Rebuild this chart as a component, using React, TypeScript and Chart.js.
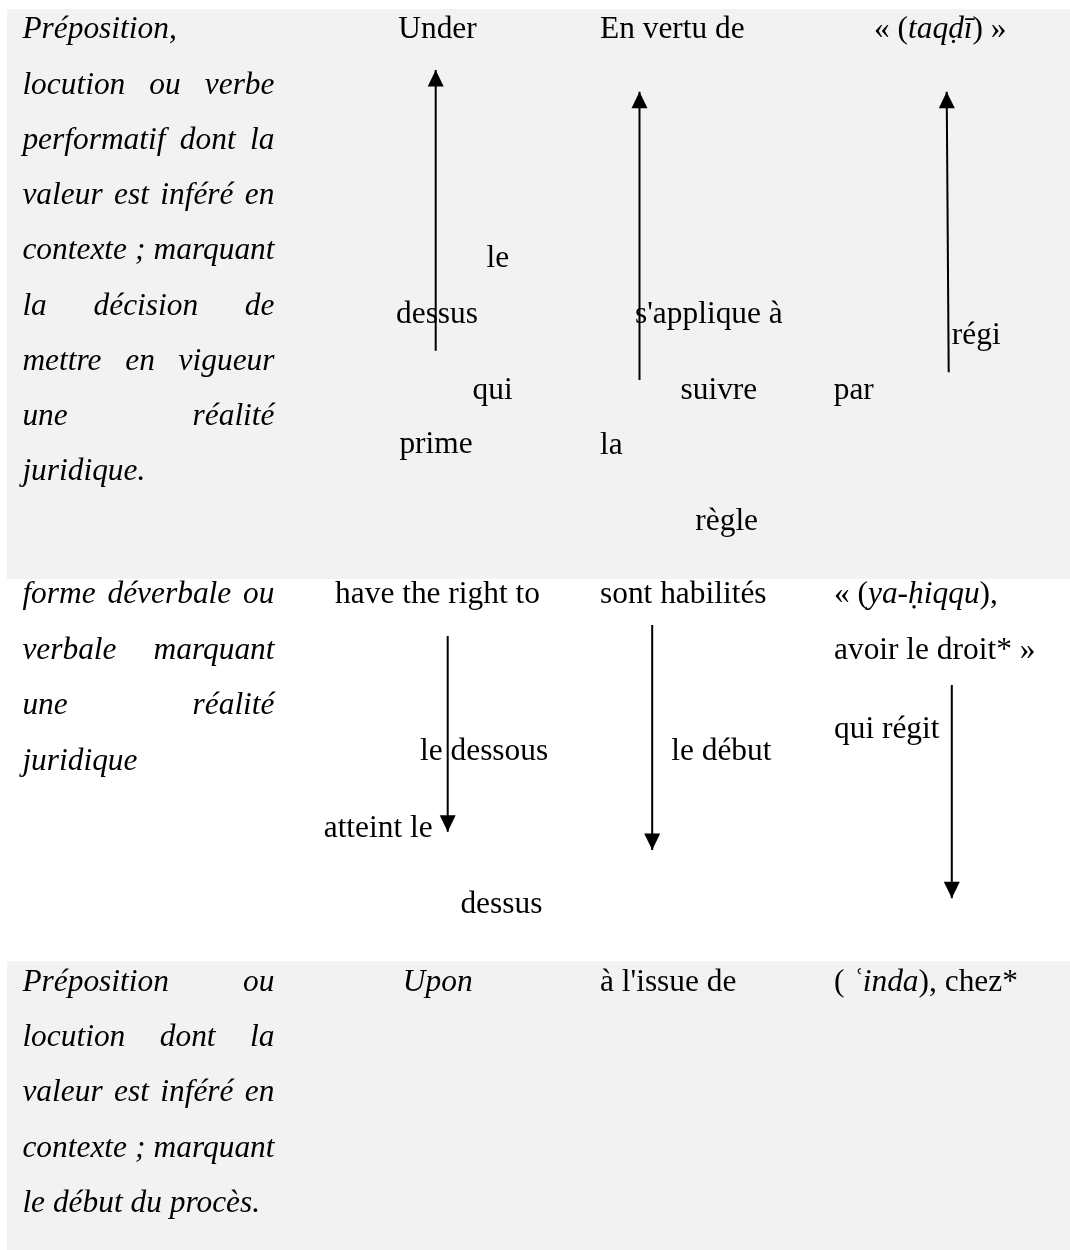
import React, { useEffect, useRef } from "react";
import { Chart, registerables } from "chart.js";

Chart.register(...registerables);

// ---- page / axis extent (data space = page units) ----
const X_MAX = 1070;
const Y_MAX = 1250;

// ---- shaded table rows (top / bottom of each grey band, left edge) ----
const bandTop = [9, 961];
const bandBottom = [579, 1250];
const bandLeft = [7, 7];

// ---- first column: italic descriptions, one entry per printed line ----
const descRow1 = [
  "Préposition,",
  "locution ou verbe",
  "performatif dont la",
  "valeur est inféré en",
  "contexte ; marquant",
  "la décision de",
  "mettre en vigueur",
  "une réalité",
  "juridique.",
];
const descRow2 = [
  "forme déverbale ou",
  "verbale marquant",
  "une réalité",
  "juridique",
];
const descRow3 = [
  "Préposition ou",
  "locution dont la",
  "valeur est inféré en",
  "contexte ; marquant",
  "le début du procès.",
];
const descParagraphs = [descRow1, descRow2, descRow3];
const descFirstBaseline = [38.3, 603.3, 991];
const descLineStep = [55.25, 55.5, 55.2];
const descColumnEdges = [22.4, 274.5];

// ---- other cells and floating words (_…_ = italic) ----
const wordTexts = [
  "Under",
  "En vertu de",
  "« (_taqḍī_) »",
  "le",
  "dessus",
  "qui",
  "prime",
  "s'applique à",
  "régi",
  "suivre",
  "par",
  "la",
  "règle",
  "have the right to",
  "sont habilités",
  "« (_ya-ḥiqqu_),",
  "avoir le droit* »",
  "qui régit",
  "le dessous",
  "atteint le",
  "dessus",
  "le début",
  "_Upon_",
  "à l'issue de",
  "( _ʿinda_), chez*",
];
const wordX = [
  437.5, 600, 940.3, 486.6, 396, 472.5, 399.4, 635, 951.8, 680.5, 833.7, 600,
  695.3, 437.5, 600, 834, 834, 834, 420, 323.7, 460.4, 671.2, 437.7, 600, 834,
];
const wordY = [
  38.3, 38.3, 38.3, 267, 322.7, 399, 452.7, 322.7, 344, 399, 399, 454.3, 530,
  603.3, 603.3, 603.3, 658.8, 738.3, 760, 836.7, 913.3, 760, 991, 991, 991,
];
const wordAlign = [
  "center", "left", "center", "left", "left", "left", "left", "left", "left",
  "left", "left", "left", "left", "center", "left", "left", "left", "left",
  "left", "left", "left", "left", "center", "left", "left",
];

// ---- arrows: start point -> tip ----
const arrowStartX = [435.7, 639.5, 948.7, 447.7, 652.2, 951.8];
const arrowStartY = [350.7, 380, 372.3, 636, 625, 685];
const arrowTipX = [435.7, 639.5, 946.7, 447.7, 652.2, 951.8];
const arrowTipY = [70, 91.7, 91.7, 831.7, 850, 898.3];

// ---- styles ----
const FONT_FAMILY = '"Liberation Serif", "Times New Roman", serif';
const FONT_SIZE = 31.4;
const BAND_COLOR = "#f2f2f2";
const INK = "#000000";
const HEAD_LEN = 16.5;
const HEAD_HALF = 8;

function fontFor(italic: boolean) {
  return `${italic ? "italic " : ""}${FONT_SIZE}px ${FONT_FAMILY}`;
}

function parseRuns(s: string): { text: string; italic: boolean }[] {
  const parts = s.split("_");
  return parts
    .map((p, i) => ({ text: p, italic: i % 2 === 1 }))
    .filter((r) => r.text.length > 0);
}

const bandsPlugin = {
  id: "bands",
  beforeDatasetsDraw(chart: any) {
    const { ctx, scales } = chart;
    const xs = scales.x;
    const ys = scales.y;
    ctx.save();
    ctx.fillStyle = "#ffffff";
    ctx.fillRect(0, 0, chart.width, chart.height);
    ctx.fillStyle = BAND_COLOR;
    for (let i = 0; i < bandTop.length; i++) {
      const x0 = xs.getPixelForValue(bandLeft[i]);
      const x1 = xs.getPixelForValue(X_MAX);
      const y0 = ys.getPixelForValue(bandTop[i]);
      const y1 = ys.getPixelForValue(bandBottom[i]);
      ctx.fillRect(x0, y0, x1 - x0, y1 - y0);
    }
    ctx.restore();
  },
};

const textPlugin = {
  id: "tableText",
  afterDatasetsDraw(chart: any) {
    const { ctx, scales } = chart;
    const xs = scales.x;
    const ys = scales.y;
    ctx.save();
    ctx.fillStyle = INK;
    ctx.textBaseline = "alphabetic";
    ctx.textAlign = "left";

    // justified italic descriptions
    const left = xs.getPixelForValue(descColumnEdges[0]);
    const right = xs.getPixelForValue(descColumnEdges[1]);
    descParagraphs.forEach((lines, pi) => {
      lines.forEach((line, li) => {
        const y = ys.getPixelForValue(descFirstBaseline[pi] + li * descLineStep[pi]);
        ctx.font = fontFor(true);
        const words = line.split(" ");
        const isLast = li === lines.length - 1;
        if (isLast || words.length < 2) {
          ctx.fillText(line, left, y);
          return;
        }
        const widths = words.map((w) => ctx.measureText(w).width);
        const total = widths.reduce((a, b) => a + b, 0);
        const gap = (right - left - total) / (words.length - 1);
        let x = left;
        words.forEach((w, wi) => {
          ctx.fillText(w, x, y);
          x += widths[wi] + gap;
        });
      });
    });

    // cell words
    wordTexts.forEach((txt, i) => {
      const runs = parseRuns(txt);
      const widths = runs.map((r) => {
        ctx.font = fontFor(r.italic);
        return ctx.measureText(r.text).width;
      });
      const total = widths.reduce((a, b) => a + b, 0);
      let x = xs.getPixelForValue(wordX[i]);
      if (wordAlign[i] === "center") x -= total / 2;
      const y = ys.getPixelForValue(wordY[i]);
      runs.forEach((r, ri) => {
        ctx.font = fontFor(r.italic);
        ctx.fillText(r.text, x, y);
        x += widths[ri];
      });
    });
    ctx.restore();
  },
};

const arrowHeadPlugin = {
  id: "arrowHeads",
  afterDatasetsDraw(chart: any) {
    const { ctx } = chart;
    ctx.save();
    ctx.fillStyle = INK;
    chart.data.datasets.forEach((_: any, di: number) => {
      const meta = chart.getDatasetMeta(di);
      const pts = meta.data;
      if (!pts || pts.length < 2) return;
      const a = pts[pts.length - 2];
      const b = pts[pts.length - 1];
      const ang = Math.atan2(b.y - a.y, b.x - a.x);
      const bx = b.x - Math.cos(ang) * HEAD_LEN;
      const by = b.y - Math.sin(ang) * HEAD_LEN;
      const nx = -Math.sin(ang) * HEAD_HALF;
      const ny = Math.cos(ang) * HEAD_HALF;
      ctx.beginPath();
      ctx.moveTo(b.x, b.y);
      ctx.lineTo(bx + nx, by + ny);
      ctx.lineTo(bx - nx, by - ny);
      ctx.closePath();
      ctx.fill();
    });
    ctx.restore();
  },
};

export default function App() {
  const canvasRef = useRef<HTMLCanvasElement | null>(null);

  useEffect(() => {
    const canvas = canvasRef.current;
    if (!canvas) return;
    const datasets = arrowStartX.map((sx, i) => ({
      label: `arrow ${i + 1}`,
      data: [
        { x: sx, y: arrowStartY[i] },
        { x: arrowTipX[i], y: arrowTipY[i] },
      ],
      showLine: true,
      borderColor: INK,
      backgroundColor: INK,
      borderWidth: 2,
      pointRadius: 0,
      pointHoverRadius: 0,
      fill: false,
      tension: 0,
    }));
    const chart = new Chart(canvas, {
      type: "scatter",
      data: { datasets },
      options: {
        animation: false,
        responsive: false,
        devicePixelRatio: 1,
        events: [],
        layout: { padding: 0 },
        plugins: {
          legend: { display: false },
          tooltip: { enabled: false },
          title: { display: false },
        },
        scales: {
          x: { type: "linear", min: 0, max: X_MAX, display: false },
          y: { type: "linear", min: 0, max: Y_MAX, reverse: true, display: false },
        },
      },
      plugins: [bandsPlugin, textPlugin, arrowHeadPlugin],
    } as any);
    return () => {
      chart.destroy();
    };
  }, []);

  return (
    <div style={{ position: "absolute", left: 0, top: 0, width: X_MAX, height: Y_MAX }}>
      <canvas
        ref={canvasRef}
        width={X_MAX}
        height={Y_MAX}
        style={{ display: "block", width: X_MAX, height: Y_MAX }}
      />
    </div>
  );
}
